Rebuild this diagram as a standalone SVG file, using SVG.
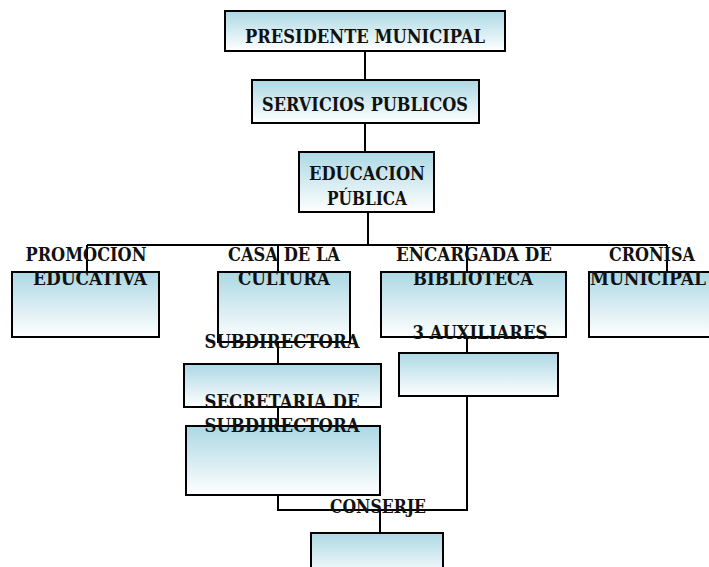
<svg xmlns="http://www.w3.org/2000/svg" width="709" height="567" viewBox="0 0 709 567">
<defs>
<linearGradient id="g" x1="0" y1="0" x2="0" y2="1">
<stop offset="0" stop-color="#acd8e4"/>
<stop offset="1" stop-color="#ffffff"/>
</linearGradient>
</defs>
<style>
.box{fill:url(#g);stroke:#000;stroke-width:2}
.ln{fill:none;stroke:#000;stroke-width:2}
.t{font-family:"DejaVu Serif","Liberation Serif",serif;font-weight:bold;font-size:19px;fill:#111;text-anchor:middle}
</style>
<rect width="709" height="567" fill="#fff"/>
<g id="connectors">
<path class="ln" d="M365 51V80M365 123V152M368 212V245M87 245H667M87 245V272M278 245V272M467 245V272M667 245V272M278 342V364M278 407V426M467 337V353M278 495V510H467V396M380 510V533"/>
</g>
<g id="presidente">
<rect class="box" x="225" y="11" width="280" height="40"/>
<text class="t" x="365" y="43" textLength="240" lengthAdjust="spacingAndGlyphs">PRESIDENTE MUNICIPAL</text>
</g>
<g id="servicios">
<rect class="box" x="252" y="80" width="227" height="43"/>
<text class="t" x="365" y="111" textLength="206" lengthAdjust="spacingAndGlyphs">SERVICIOS PUBLICOS</text>
</g>
<g id="educacion">
<rect class="box" x="299" y="152" width="135" height="60"/>
<text class="t" x="367" y="180" textLength="116" lengthAdjust="spacingAndGlyphs">EDUCACION</text>
<text class="t" x="367" y="205" textLength="80" lengthAdjust="spacingAndGlyphs">PÚBLICA</text>
</g>
<g id="promocion">
<rect class="box" x="12" y="272" width="147" height="65"/>
<text class="t" x="86" y="261" textLength="121" lengthAdjust="spacingAndGlyphs">PROMOCION</text>
<text class="t" x="90" y="285" textLength="114" lengthAdjust="spacingAndGlyphs">EDUCATIVA</text>
</g>
<g id="casa">
<rect class="box" x="218" y="272" width="132" height="70"/>
<text class="t" x="284" y="261" textLength="112" lengthAdjust="spacingAndGlyphs">CASA DE LA</text>
<text class="t" x="284" y="285" textLength="92" lengthAdjust="spacingAndGlyphs">CULTURA</text>
</g>
<g id="encargada">
<rect class="box" x="381" y="272" width="185" height="65"/>
<text class="t" x="474" y="261" textLength="156" lengthAdjust="spacingAndGlyphs">ENCARGADA DE</text>
<text class="t" x="473" y="285" textLength="120" lengthAdjust="spacingAndGlyphs">BIBLIOTECA</text>
</g>
<g id="cronisa">
<rect class="box" x="589" y="272" width="122" height="65"/>
<text class="t" x="652" y="261" textLength="86" lengthAdjust="spacingAndGlyphs">CRONISA</text>
<text class="t" x="648" y="285" textLength="116" lengthAdjust="spacingAndGlyphs">MUNICIPAL</text>
</g>
<g id="subdirectora">
<rect class="box" x="184" y="364" width="197" height="43"/>
<text class="t" x="282" y="348" textLength="155" lengthAdjust="spacingAndGlyphs">SUBDIRECTORA</text>
</g>
<g id="auxiliares">
<rect class="box" x="399" y="353" width="159" height="43"/>
<text class="t" x="480" y="339" textLength="135" lengthAdjust="spacingAndGlyphs">3 AUXILIARES</text>
</g>
<g id="secretaria">
<rect class="box" x="186" y="426" width="194" height="69"/>
<text class="t" x="282" y="408" textLength="155" lengthAdjust="spacingAndGlyphs">SECRETARIA DE</text>
<text class="t" x="282" y="432" textLength="155" lengthAdjust="spacingAndGlyphs">SUBDIRECTORA</text>
</g>
<g id="conserje">
<rect class="box" x="311" y="533" width="132" height="45"/>
<text class="t" x="378" y="513" textLength="96" lengthAdjust="spacingAndGlyphs">CONSERJE</text>
</g>
</svg>
